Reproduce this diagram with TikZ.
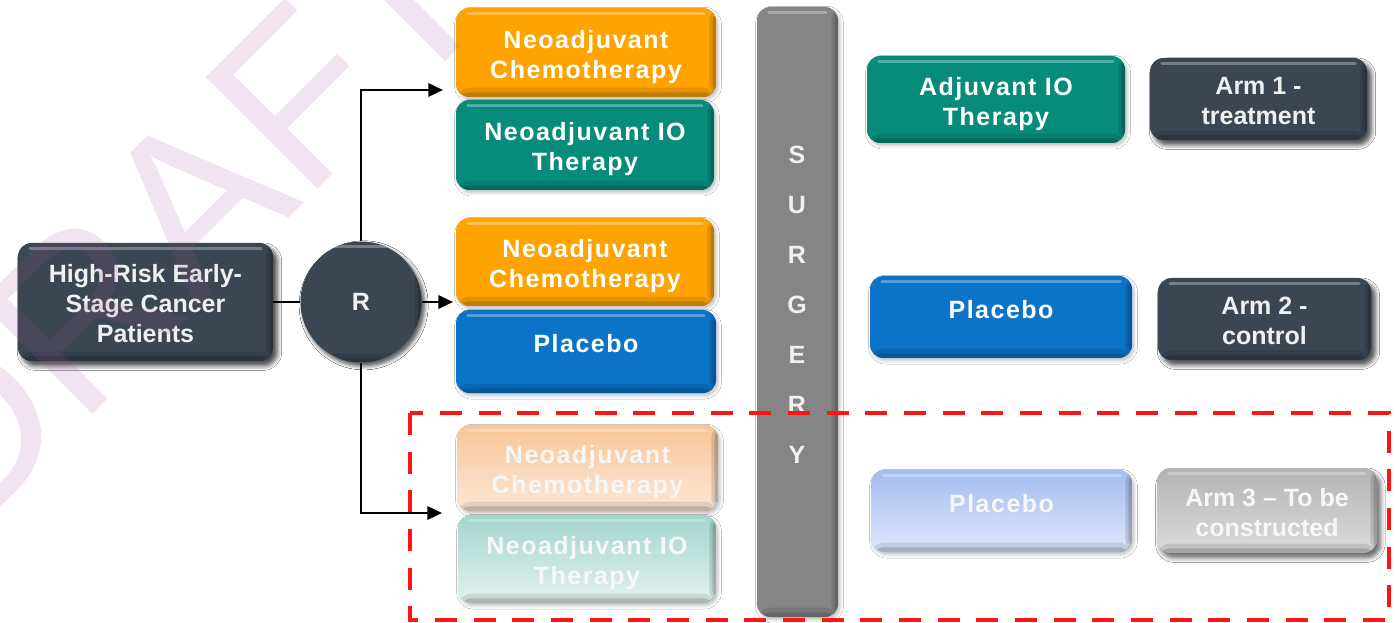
\documentclass[tikz,border=0pt]{standalone}
\usepackage{fontspec}
\setmainfont{Liberation Sans}
\newfontfamily\boxspaced[LetterSpace=6]{Liberation Sans}
\usetikzlibrary{arrows.meta,shadows.blur}

\definecolor{slate}{HTML}{3A4651}
\definecolor{orangeC}{HTML}{FFA300}
\definecolor{tealC}{HTML}{078C7C}
\definecolor{blueC}{HTML}{0B74C9}
\definecolor{barC}{HTML}{858585}
\definecolor{redC}{HTML}{FF1414}
\definecolor{wmC}{HTML}{A050A0}
\definecolor{fadeOrT}{HTML}{F8C597}
\definecolor{fadeOrB}{HTML}{FDE8D8}
\definecolor{fadeTeT}{HTML}{A4D5CD}
\definecolor{fadeTeB}{HTML}{E3F2EF}
\definecolor{fadeBlT}{HTML}{A3BDF0}
\definecolor{fadeBlB}{HTML}{DDE7FA}
\definecolor{fadeGrT}{HTML}{B3B3B3}
\definecolor{fadeGrB}{HTML}{DCDCDC}

\tikzset{
  sz/.style 2 args={minimum width=#1*0.75pt, minimum height=#2*0.75pt},
  bevel/.style={path picture={
    \coordinate (bnw) at (path picture bounding box.north west);
    \coordinate (bne) at (path picture bounding box.north east);
    \coordinate (bsw) at (path picture bounding box.south west);
    \coordinate (bse) at (path picture bounding box.south east);
    \fill[black,opacity=0.10] ([yshift=7pt]bsw) rectangle (bse);
    \fill[black,opacity=0.15] ([yshift=3.5pt]bsw) rectangle (bse);
    \fill[black,opacity=0.12] ([xshift=-5pt]bne) rectangle (bse);
    \fill[black,opacity=0.15] ([xshift=-2.5pt]bne) rectangle (bse);
    \draw[white,opacity=0.30,line width=2.5pt,line cap=round]
      ([xshift=9pt,yshift=-4pt]bnw) -- ([xshift=-9pt,yshift=-4pt]bne);
  }},
  card/.style={rounded corners=10pt, inner sep=0pt, text=white, align=center,
    font=\boxspaced\bfseries\fontsize{18.75}{22.5}\selectfont, bevel,
    blur shadow={shadow xshift=1.5pt, shadow yshift=-2pt,
      shadow blur radius=2.5pt, shadow opacity=25}},
  % labels sit a little below the middle of their box
  twolines/.style={text height=40pt, text depth=1.1pt},
  threelines/.style={text height=62pt, text depth=0.6pt},
  darkcard/.style={card, fill=slate, text=white!94!black,
    font=\bfseries\fontsize{18.75}{22.5}\selectfont,
    blur shadow={shadow xshift=3pt, shadow yshift=-3.5pt,
      shadow blur radius=3.5pt, shadow opacity=45}},
  fadecard/.style={card, top color=#1T, bottom color=#1B, text=white!97!black},
  lowtext/.style={text depth=12pt},
  conn/.style={draw=black, line width=1.9pt},
  arr/.style={conn, -{Triangle[length=11pt,width=10pt]}},
  redbox/.style={draw=redC, line width=3.2pt, dash pattern=on 16.5pt off 12.5pt}
}

\begin{document}
\begin{tikzpicture}[x=0.75pt,y=-0.75pt]
\useasboundingbox[fill=white] (0,0) rectangle (1395,623);

% patient population and randomisation
\node[darkcard, threelines, sz={255}{118}] (pat) at (145.5,302) {High-Risk Early-\\Stage Cancer\\Patients};
\node[darkcard, circle, rounded corners=0pt, sz={121}{121},
  blur shadow={shadow xshift=2pt, shadow yshift=-2.5pt, shadow blur radius=3pt, shadow opacity=30}]
  (R) at (361,302) {R};

% neoadjuvant phase, arm 1
\node[card, twolines, fill=orangeC, sz={260}{89}] (c1) at (586,52.5) {Neoadjuvant\\Chemotherapy};
\node[card, twolines, fill=tealC, sz={258}{90}] (io1) at (585,145) {Neoadjuvant IO\\Therapy};
% neoadjuvant phase, arm 2
\node[card, twolines, fill=orangeC, sz={258}{88}] (c2) at (585,262) {Neoadjuvant\\Chemotherapy};
\node[card, fill=blueC, lowtext, sz={260}{83}] (p1) at (586,351.5) {Placebo};
% neoadjuvant phase, arm 3
\node[fadecard=fadeOr, twolines, sz={261}{86}] (c3) at (587.5,468) {Neoadjuvant\\Chemotherapy};
\node[fadecard=fadeTe, twolines, sz={258}{88}] (io3) at (587,559) {Neoadjuvant IO\\Therapy};

% surgery bar
\node[card, fill=barC, sz={81}{610}] (bar) at (797.5,312) {};
\node[font=\bfseries\fontsize{18.75}{37.5}\selectfont, text=white!94!black, align=center, inner sep=0pt]
  (surg) at (797,304.5) {S\\U\\R\\G\\E\\R\\Y};

% adjuvant phase and arm labels
\node[card, twolines, fill=tealC, sz={258}{87}] (adj) at (996,99.5) {Adjuvant IO\\Therapy};
\node[darkcard, twolines, sz={217}{82}] (arm1) at (1258.5,99) {Arm 1 -\\treatment};
\node[card, fill=blueC, lowtext, sz={262}{82}] (p2) at (1001,317) {Placebo};
\node[darkcard, twolines, sz={213}{82}] (arm2) at (1264.5,319) {Arm 2 -\\control};
\node[fadecard=fadeBl, lowtext, sz={261}{82}] (p3) at (1001.5,511) {Placebo};
\node[fadecard=fadeGr, twolines, font=\bfseries\fontsize{18.75}{22.5}\selectfont,
  blur shadow={shadow xshift=2.5pt, shadow yshift=-3.5pt, shadow blur radius=3.5pt, shadow opacity=35},
  sz={220}{85}] (arm3) at (1267,510.5) {Arm 3 -- To be\\constructed};

% randomisation connectors
\coordinate (t1) at (443,90);
\coordinate (t2) at (453,302);
\coordinate (t3) at (442,513);
\draw[conn] (pat.east) -- (R.west);
\draw[arr] (R.north) |- (t1);
\draw[arr] (R.east) -- (t2);
\draw[arr] (R.south) |- (t3);

% arm still to be built
\coordinate (rb1) at (410,413);
\coordinate (rb2) at (1389,620);
\draw[redbox] (rb1) rectangle (rb2);

% watermark
\node[rotate=45, text=wmC, opacity=0.15, inner sep=0pt,
  font=\fontsize{172}{172}\selectfont] (wm) at (177,219) {DRAFT};
\end{tikzpicture}
\end{document}
